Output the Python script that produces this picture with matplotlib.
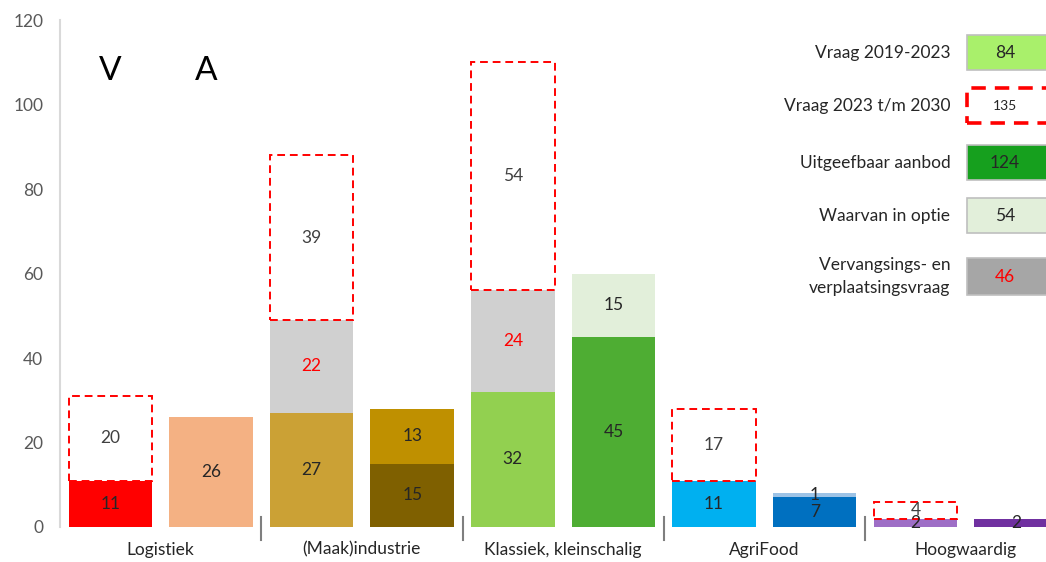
import numpy as np
import matplotlib.pyplot as plt
from matplotlib.patches import Rectangle

plt.rcParams['font.family'] = ['Lato', 'DejaVu Sans']

# data
categories = ['Logistiek', '(Maak)industrie', 'Klassiek, kleinschalig', 'AgriFood', 'Hoogwaardig']
vraag_basis = [11, 27, 32, 11, 2]          # vraag 2019-2023
vraag_vervanging = [0, 22, 24, 0, 0]       # vervangings- en verplaatsingsvraag
vraag_toekomst = [20, 39, 54, 17, 4]       # vraag 2023 t/m 2030
aanbod_1 = [26, 15, 45, 7, 2]              # uitgeefbaar aanbod
aanbod_2 = [0, 13, 15, 1, 0]               # waarvan in optie / tweede deel

kleur_vraag = ['#FF0000', '#CBA135', '#92D050', '#00B0F0', '#9E6EC6']
kleur_aanbod_1 = ['#F4B183', '#7F6000', '#4EAD33', '#0070C0', '#7030A0']
kleur_aanbod_2 = ['#F4B183', '#BF9000', '#E2EFDA', '#9DC3E6', '#7030A0']

legend_labels = ['Vraag 2019-2023', 'Vraag 2023 t/m 2030', 'Uitgeefbaar aanbod',
                 'Waarvan in optie', 'Vervangsings- en\nverplaatsingsvraag']
legend_values = [84, 135, 124, 54, 46]

fig = plt.figure(figsize=(10.46, 5.62), dpi=100)
ax = fig.add_axes([0.0574, 0.0623, 0.962, 0.902])

n = len(categories)
x_v = np.arange(n) * 2 + 0.5
x_a = np.arange(n) * 2 + 1.5
w = 0.83
txt = '#262626'
fs = 12.5

# vraag bars
b1 = ax.bar(x_v, vraag_basis, w, color=kleur_vraag, linewidth=0)
bot = np.array(vraag_basis)
b2 = ax.bar(x_v, vraag_vervanging, w, bottom=bot, color='#D0D0D0', linewidth=0)
bot2 = bot + np.array(vraag_vervanging)
b3 = ax.bar(x_v, vraag_toekomst, w, bottom=bot2, color='white', edgecolor='#FF0000',
            linestyle=(0, (4, 2.5)), linewidth=1.4)

# aanbod bars
a1 = ax.bar(x_a, aanbod_1, w, color=kleur_aanbod_1, linewidth=0)
a2 = ax.bar(x_a, aanbod_2, w, bottom=aanbod_1, color=kleur_aanbod_2, linewidth=0)

def labels(bars, vals, bottoms, color):
    for b, v, y0 in zip(bars, vals, bottoms):
        if v == 0:
            continue
        ax.text(b.get_x() + b.get_width() / 2, y0 + v / 2, str(v), ha='center', va='center',
                fontsize=fs, color=color)

labels(b1, vraag_basis, [0] * n, txt)
labels(b2, vraag_vervanging, bot, '#FF0000')
labels(b3, vraag_toekomst, bot2, '#404040')
labels(a1, aanbod_1, [0] * n, txt)
labels(a2, aanbod_2, aanbod_1, txt)

ax.set_xlim(0, 2 * n)
ax.set_ylim(0, 120)
ax.set_yticks(range(0, 121, 20))
ax.tick_params(axis='y', length=0, pad=12, labelsize=fs, labelcolor='#595959')
ax.set_xticks([])
for s in ['top', 'right', 'bottom']:
    ax.spines[s].set_visible(False)
ax.spines['left'].set_color('#D9D9D9')
ax.spines['left'].set_linewidth(1.5)

# category labels and separators
for i, c in enumerate(categories):
    ax.text(2 * i + 1, -0.045, c, transform=ax.get_xaxis_transform(), ha='center',
            va='center', fontsize=fs, color=txt)
tr = ax.get_xaxis_transform()
for i in range(1, n):
    ax.plot([2 * i, 2 * i], [0.02, -0.026], transform=tr, color='#7F7F7F', lw=1.5, clip_on=False)

ax.text(x_v[0], 0.9, 'V', transform=tr, ha='center', va='center', fontsize=24, color='black')
ax.text(x_a[0] - 0.05, 0.9, 'A', transform=tr, ha='center', va='center', fontsize=24, color='black')

# legend boxes
box_bottom = [0.9014, 0.7968, 0.6844, 0.5799, 0.4576]
box_h = [0.069, 0.069, 0.069, 0.069, 0.073]
box_face = ['#A9F06B', 'white', '#16A01E', '#E2EFDA', '#A6A6A6']
box_edge = ['#BFBFBF', '#FF0000', '#BFBFBF', '#BFBFBF', '#BFBFBF']
box_ls = ['-', (0, (4, 2.5)), '-', '-', '-']
box_lw = [1.2, 2.6, 1.2, 1.2, 1.2]
val_col = [txt, txt, txt, txt, '#FF0000']
val_fs = [fs, 10, fs, fs, fs]
for lab, val, yb, h, fc, ec, ls, lw, vc, vf in zip(legend_labels, legend_values, box_bottom, box_h,
                                                   box_face, box_edge, box_ls, box_lw, val_col, val_fs):
    ax.add_patch(Rectangle((0.9016, yb), 0.12, h, transform=ax.transAxes, facecolor=fc,
                           edgecolor=ec, linestyle=ls, linewidth=lw, clip_on=False))
    ax.text(0.939, yb + h / 2, str(val), transform=ax.transAxes, ha='center', va='center',
            fontsize=vf, color=vc)
    ax.text(0.8847, yb + h / 2, lab, transform=ax.transAxes, ha='right', va='center',
            fontsize=fs, color=txt, linespacing=1.5)

fig.savefig('out.png', dpi=100)
